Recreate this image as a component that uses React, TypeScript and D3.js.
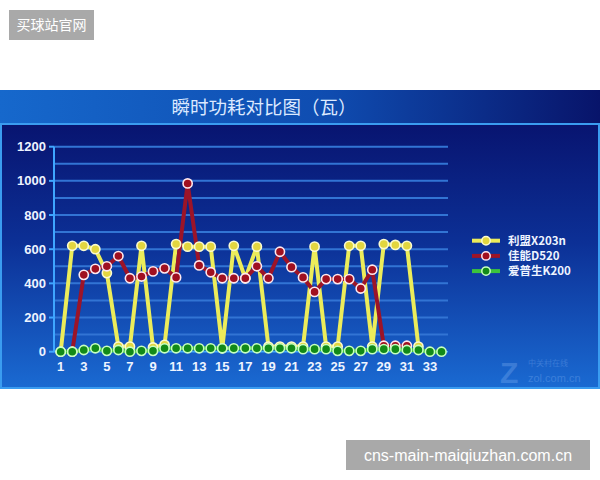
import { useEffect, useRef } from "react";
import * as d3 from "d3";

const categories = d3.range(1, 35);
const xTickLabels = categories.filter((d) => d % 2 === 1);
const yTicks = [0, 200, 400, 600, 800, 1000, 1200];

const lexmark: (number | null)[] = [
  0, 620, 620, 600, 460, 30, 30, 620, 25, 40, 630, 615, 615, 615, 20, 620, 430,
  615, 30, 30, 30, 30, 615, 30, 30, 620, 620, 30, 630, 625, 620, 30, null, null,
];
const canon: (number | null)[] = [
  null, 0, 450, 485, 500, 560, 430, 440, 470, 488, 435, 985, 505, 465, 430, 430,
  430, 500, 430, 585, 495, 435, 350, 425, 425, 425, 370, 480, 35, 35, 35, null,
  null, null,
];
const epson: (number | null)[] = [
  0, 0, 10, 20, 5, 10, 0, 5, 5, 20, 20, 20, 20, 20, 20, 20, 20, 20, 20, 20, 20,
  15, 15, 15, 5, 5, 5, 15, 15, 15, 10, 10, 0, 0,
];

const series = [
  { name: "利盟X203n", values: lexmark, line: "#ecec5a", fill: "#e2d640", ring: "#fbfbd0" },
  { name: "佳能D520", values: canon, line: "#9c1428", fill: "#a01020", ring: "#ffe8ee" },
  { name: "爱普生K200", values: epson, line: "#3cc43c", fill: "#128a18", ring: "#c8ffc0" },
];

export default function App() {
  const svgRef = useRef<SVGSVGElement>(null);

  useEffect(() => {
    if (!svgRef.current) return;
    const svg = d3.select(svgRef.current);
    svg.selectAll("*").remove();

    const font = "'Liberation Sans', Arial, sans-serif";
    const cjk = "'Noto Sans CJK SC', sans-serif";

    const defs = svg.append("defs");
    const tg = defs.append("linearGradient").attr("id", "titleGrad");
    tg.append("stop").attr("offset", "0%").attr("stop-color", "#1668cc");
    tg.append("stop").attr("offset", "55%").attr("stop-color", "#0f4cb0");
    tg.append("stop").attr("offset", "100%").attr("stop-color", "#08146a");
    const pg = defs
      .append("linearGradient")
      .attr("id", "panelGrad")
      .attr("x1", 0)
      .attr("y1", 0)
      .attr("x2", 0)
      .attr("y2", 1);
    pg.append("stop").attr("offset", "0%").attr("stop-color", "#081470");
    pg.append("stop").attr("offset", "45%").attr("stop-color", "#0c3096");
    pg.append("stop").attr("offset", "100%").attr("stop-color", "#1a6ad2");

    // top-left label
    svg.append("rect").attr("x", 9).attr("y", 10).attr("width", 85).attr("height", 30).attr("fill", "#a9a9a9");
    svg
      .append("text")
      .attr("x", 51.5)
      .attr("y", 30)
      .attr("text-anchor", "middle")
      .attr("font-family", cjk)
      .attr("font-size", 14)
      .attr("fill", "#fff")
      .text("买球站官网");

    // title band + panel
    svg.append("rect").attr("x", 0).attr("y", 90).attr("width", 600).attr("height", 35).attr("fill", "url(#titleGrad)");
    svg
      .append("text")
      .attr("x", 264)
      .attr("y", 114)
      .attr("text-anchor", "middle")
      .attr("font-family", cjk)
      .attr("font-size", 18.5)
      .attr("fill", "#dce9ff")
      .text("瞬时功耗对比图（瓦）");
    svg
      .append("rect")
      .attr("x", 1)
      .attr("y", 124)
      .attr("width", 598)
      .attr("height", 264)
      .attr("fill", "url(#panelGrad)")
      .attr("stroke", "#3a9cf0")
      .attr("stroke-width", 2);

    const x = d3.scaleLinear().domain([1, 34]).range([60.7, 441.5]);
    const y = d3.scaleLinear().domain([0, 1200]).range([351.7, 146.7]);

    // grid
    svg
      .append("g")
      .selectAll("line")
      .data(d3.range(100, 1201, 100))
      .join("line")
      .attr("x1", 54)
      .attr("x2", 448)
      .attr("y1", (d) => y(d))
      .attr("y2", (d) => y(d))
      .attr("stroke", "#3274d4")
      .attr("stroke-width", 2);

    // axes
    const axisColor = "#3fa6ff";
    svg.append("line").attr("x1", 54).attr("x2", 54).attr("y1", y(1200)).attr("y2", y(0)).attr("stroke", axisColor).attr("stroke-width", 2);
    svg.append("line").attr("x1", 54).attr("x2", 448).attr("y1", y(0)).attr("y2", y(0)).attr("stroke", axisColor).attr("stroke-width", 1.5);
    const yAxis = svg.append("g");
    yAxis
      .selectAll("line")
      .data(yTicks)
      .join("line")
      .attr("x1", 49)
      .attr("x2", 54)
      .attr("y1", (d) => y(d))
      .attr("y2", (d) => y(d))
      .attr("stroke", axisColor)
      .attr("stroke-width", 2);
    yAxis
      .selectAll("text")
      .data(yTicks)
      .join("text")
      .attr("x", 46)
      .attr("y", (d) => y(d))
      .attr("dy", "0.35em")
      .attr("text-anchor", "end")
      .attr("font-family", font)
      .attr("font-weight", "bold")
      .attr("font-size", 13)
      .attr("fill", "#eef4ff")
      .text((d) => d);
    svg
      .append("g")
      .selectAll("text")
      .data(xTickLabels)
      .join("text")
      .attr("x", (d) => x(d))
      .attr("y", 371)
      .attr("text-anchor", "middle")
      .attr("font-family", font)
      .attr("font-weight", "bold")
      .attr("font-size", 13)
      .attr("fill", "#eef4ff")
      .text((d) => d);

    // series
    const line = d3
      .line<number | null>()
      .defined((d) => d !== null)
      .x((_, i) => x(categories[i]))
      .y((d) => y(d as number));

    series.forEach((s) => {
      svg
        .append("path")
        .datum(s.values)
        .attr("fill", "none")
        .attr("stroke", s.line)
        .attr("stroke-width", 4)
        .attr("stroke-linejoin", "round")
        .attr("d", line);
    });
    series.forEach((s) => {
      svg
        .append("g")
        .selectAll("circle")
        .data(s.values.map((v, i) => ({ v, c: categories[i] })).filter((d) => d.v !== null))
        .join("circle")
        .attr("cx", (d) => x(d.c))
        .attr("cy", (d) => y(d.v as number))
        .attr("r", 4.6)
        .attr("fill", s.fill)
        .attr("stroke", s.ring)
        .attr("stroke-width", 1.6);
    });

    // legend
    const legend = svg.append("g");
    series.forEach((s, i) => {
      const ly = 240.7 + i * 15.2;
      legend.append("line").attr("x1", 472).attr("x2", 500).attr("y1", ly).attr("y2", ly).attr("stroke", s.line).attr("stroke-width", 4);
      legend.append("circle").attr("cx", 486).attr("cy", ly).attr("r", 4.2).attr("fill", s.fill).attr("stroke", s.ring).attr("stroke-width", 1.5);
      legend
        .append("text")
        .attr("x", 508)
        .attr("y", ly)
        .attr("dy", "0.36em")
        .attr("font-family", cjk)
        .attr("font-weight", "bold")
        .attr("font-size", 11.5)
        .attr("fill", "#eef4ff")
        .text(s.name);
    });

    // faint watermark
    const wm = svg.append("g").attr("opacity", 0.25);
    wm.append("text").attr("x", 500).attr("y", 383).attr("font-family", font).attr("font-weight", "bold").attr("font-size", 30).attr("fill", "#9ec8ff").text("Z");
    wm.append("text").attr("x", 528).attr("y", 366).attr("font-family", cjk).attr("font-size", 8).attr("fill", "#9ec8ff").text("中关村在线");
    wm.append("text").attr("x", 528).attr("y", 382).attr("font-family", font).attr("font-size", 11).attr("fill", "#9ec8ff").text("zol.com.cn");

    // bottom-right label
    svg.append("rect").attr("x", 346).attr("y", 440).attr("width", 244).attr("height", 30).attr("fill", "#a9a9a9");
    svg
      .append("text")
      .attr("x", 468)
      .attr("y", 461)
      .attr("text-anchor", "middle")
      .attr("font-family", font)
      .attr("font-size", 16)
      .attr("fill", "#fff")
      .text("cns-main-maiqiuzhan.com.cn");
  }, []);

  return (
    <svg
      ref={svgRef}
      width={600}
      height={480}
      style={{ position: "absolute", left: 0, top: 0, background: "#fff" }}
    />
  );
}
